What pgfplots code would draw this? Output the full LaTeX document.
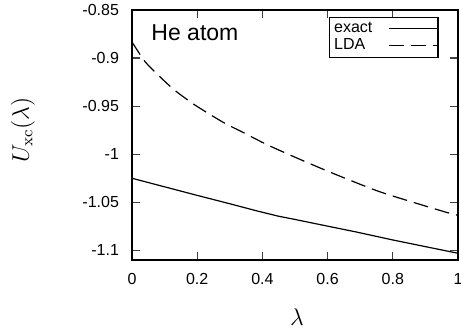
\documentclass[border=0pt]{standalone}
\usepackage[no-math]{fontspec}
\setmainfont{Liberation Sans}
\usepackage{pgfplots}
\pgfplotsset{compat=1.18}
\begin{document}
\begin{tikzpicture}
\begin{axis}[
 width=163pt, height=125pt, scale only axis,
 xmin=0, xmax=1, ymin=-1.11, ymax=-0.85,
 xtick={0,0.2,0.4,0.6,0.8,1},
 ytick={-1.1,-1.05,-1,-0.95,-0.9,-0.85},
 tick align=inside, major tick length=4pt, minor tick num=0,
 tick style={black!75, line width=0.6pt},
 axis line style={line width=0.8pt},
 ticklabel style={font=\fontsize{8}{9.6}\selectfont},
 /pgf/number format/assume math mode=true,
 yticklabel style={/pgf/number format/fixed, /pgf/number format/precision=2, xshift=-3pt},
 xticklabel style={yshift=-3pt},
 scaled y ticks=false,
 xlabel={$\lambda$}, ylabel={$U_{\rm xc}(\lambda)$},
 label style={font=\fontsize{11.5}{13}\selectfont},
 xlabel style={at={(axis description cs:0.506,-0.228)}, anchor=center},
 ylabel style={at={(axis description cs:-0.335,0.52)}, anchor=center},
 legend plot pos=right,
 legend cell align=left,
 legend style={at={(rel axis cs:0.604,0.972)}, anchor=north west, draw=black, line width=0.7pt,
   font=\fontsize{8}{8.5}\selectfont, inner sep=0.3pt, row sep=-2.5pt,
   /tikz/every odd column/.append style={column sep=6pt}},
 legend image code/.code={\draw[#1, line width=0.5pt] (0pt,0pt) -- (24pt,0pt);},
]
\addplot[black, line width=0.6pt] coordinates {
 (0,-1.025) (0.1,-1.0339) (0.2,-1.0428) (0.3,-1.0515) (0.386,-1.0592) (0.45,-1.0645)
 (0.498,-1.0677) (0.6,-1.0748) (0.687,-1.0808) (0.799,-1.0891) (0.9,-1.0961) (1,-1.103)
};
\addlegendentry{exact}
\addplot[black, line width=0.6pt, dash pattern=on 7.5pt off 3.5pt, smooth, tension=0.4] coordinates {
 (0,-0.8833) (0.04,-0.9037) (0.08,-0.9176) (0.13,-0.9332) (0.193,-0.9488) (0.279,-0.9667)
 (0.34,-0.9772) (0.397,-0.9872) (0.437,-0.9936) (0.519,-1.0059) (0.621,-1.0205)
 (0.764,-1.0395) (0.957,-1.0597) (1,-1.0635)
};
\addlegendentry{LDA}
\node[font=\fontsize{11.5}{13}\selectfont] at (rel axis cs:0.193,0.908) {He atom};
\end{axis}
\pgfresetboundingbox
\path[use as bounding box] (-66pt,-35.5pt) rectangle (164.5pt,130pt);
\end{tikzpicture}
\end{document}
